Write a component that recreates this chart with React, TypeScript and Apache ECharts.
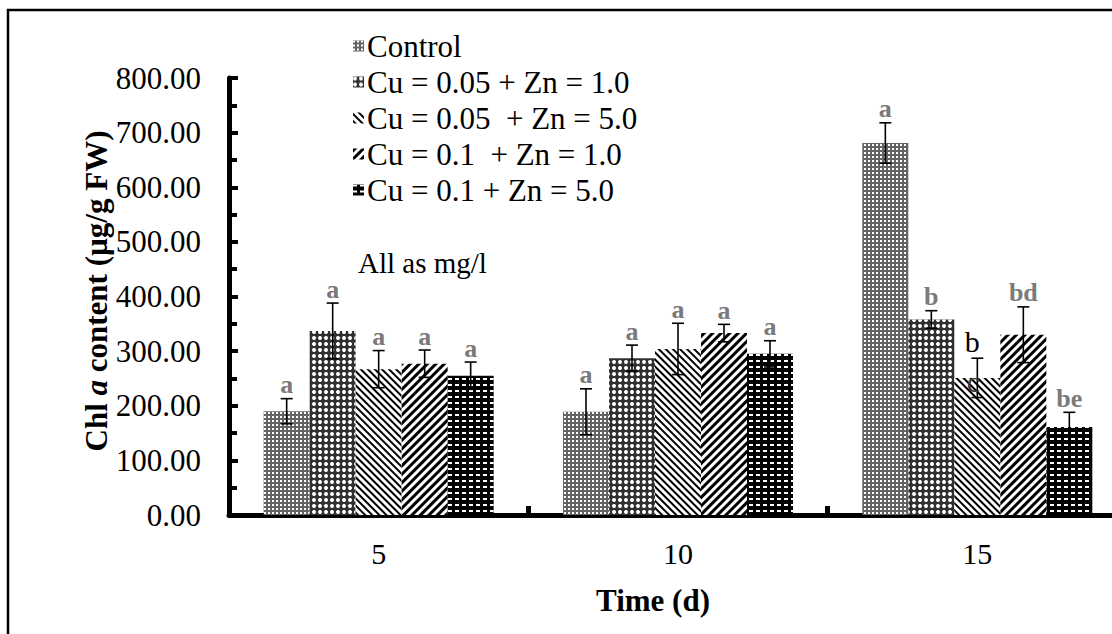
import React, { useEffect, useRef } from 'react';
import * as echarts from 'echarts';

const categories = ['5', '10', '15'];
const seriesNames = [
  'Control',
  'Cu = 0.05 + Zn = 1.0',
  'Cu = 0.05  + Zn = 5.0',
  'Cu = 0.1  + Zn = 1.0',
  'Cu = 0.1 + Zn = 5.0',
];
const controlValues = [190, 189, 681];
const cu005Zn1Values = [337, 287, 358];
const cu005Zn5Values = [267, 304, 251];
const cu01Zn1Values = [277, 333, 330];
const cu01Zn5Values = [255, 295, 161];

const controlErr = [23, 42, 37];
const cu005Zn1Err = [51, 24, 16];
const cu005Zn5Err = [34, 47, 36];
const cu01Zn1Err = [25, 16, 51];
const cu01Zn5Err = [25, 24, 27];

const controlLetters = ['a', 'a', 'a'];
const cu005Zn1Letters = ['a', 'a', 'b'];
const cu005Zn5Letters = ['a', 'a', 'b'];
const cu01Zn1Letters = ['a', 'a', 'bd'];
const cu01Zn5Letters = ['a', 'a', 'be'];

// letters drawn in black (series index, category index)
const darkLetters = [[2, 2]];
// extra letter drawn just under the bar top
const extraLetters = [{ series: 2, cat: 2, text: 'c' }];

const yMin = 0;
const yMax = 800;
const yInterval = 100;
const noteText = 'All as mg/l';

const FONT = 'Liberation Serif';
const BAR_W = 46;

export default function App() {
  const ref = useRef<HTMLDivElement>(null);

  useEffect(() => {
    if (!ref.current) return;
    const chart = echarts.init(ref.current, undefined, { renderer: 'svg' });

    const values = [controlValues, cu005Zn1Values, cu005Zn5Values, cu01Zn1Values, cu01Zn5Values];
    const errs = [controlErr, cu005Zn1Err, cu005Zn5Err, cu01Zn1Err, cu01Zn5Err];
    const letters = [controlLetters, cu005Zn1Letters, cu005Zn5Letters, cu01Zn1Letters, cu01Zn5Letters];

    const decals: any[] = [
      { color: '#ffffff', symbol: 'rect', symbolSize: 1, dashArrayX: [2, 2], dashArrayY: [2, 2] },
      { color: '#ffffff', symbol: 'circle', symbolSize: 1, dashArrayX: [4, 2], dashArrayY: [4, 2] },
      { color: '#000000', symbol: 'rect', symbolSize: 1, dashArrayX: [1, 0], dashArrayY: [2, 3], rotation: Math.PI / 4 },
      { color: '#000000', symbol: 'rect', symbolSize: 1, dashArrayX: [1, 0], dashArrayY: [3, 3], rotation: -Math.PI / 4 },
      { color: '#ffffff', symbol: 'rect', symbolSize: 1, dashArrayX: [4, 3], dashArrayY: [2, 4] },
    ];
    const baseColors = ['#646464', '#303030', '#ffffff', '#ffffff', '#000000'];

    const barSeries = seriesNames.map((name, i) => ({
      name,
      type: 'bar',
      data: values[i],
      barWidth: BAR_W,
      barGap: '0%',
      itemStyle: { color: baseColors[i], decal: decals[i] },
      emphasis: { disabled: true },
    }));

    const errData: any[] = [];
    values.forEach((vals, s) => {
      vals.forEach((v, c) => {
        errData.push({ value: [c, v, s, errs[s][c]], s, c, letter: letters[s][c] });
      });
    });

    const errSeries = {
      type: 'custom',
      name: 'err',
      z: 5,
      encode: { x: 0, y: 1 },
      data: errData.map((d) => d.value),
      renderItem: (params: any, api: any) => {
        const d = errData[params.dataIndex];
        const cat = api.value(0);
        const mean = api.value(1);
        const s = api.value(2);
        const err = api.value(3);
        const off = (s - 2) * BAR_W;
        const top = api.coord([cat, mean + err]);
        const bot = api.coord([cat, mean - err]);
        const mid = api.coord([cat, mean]);
        const x = top[0] + off;
        const ls = { stroke: '#000', lineWidth: 1.6 };
        const dark = darkLetters.some((p) => p[0] === d.s && p[1] === d.c);
        const children: any[] = [
          { type: 'line', shape: { x1: x, y1: top[1], x2: x, y2: bot[1] }, style: ls },
          { type: 'line', shape: { x1: x - 6, y1: top[1], x2: x + 6, y2: top[1] }, style: ls },
          { type: 'line', shape: { x1: x - 6, y1: bot[1], x2: x + 6, y2: bot[1] }, style: ls },
          {
            type: 'text',
            x: dark ? x - 5 : x,
            y: top[1] - (dark ? 17 : 14),
            style: {
              text: d.letter,
              fill: dark ? '#000' : '#7a7a7a',
              font: `${dark ? 'normal' : 'bold'} ${dark ? 30 : 26}px ${FONT}`,
              align: 'center',
              verticalAlign: 'middle',
            },
          },
        ];
        extraLetters.forEach((e) => {
          if (e.series === d.s && e.cat === d.c) {
            children.push({
              type: 'text',
              x: x - 4,
              y: mid[1] + 4,
              style: {
                text: e.text,
                fill: '#3a3a3a',
                font: `30px ${FONT}`,
                align: 'center',
                verticalAlign: 'middle',
              },
            });
          }
        });
        return { type: 'group', children };
      },
    };

    chart.setOption({
      animation: false,
      backgroundColor: '#ffffff',
      textStyle: { fontFamily: FONT },
      legend: {
        data: seriesNames,
        orient: 'vertical',
        left: 353,
        top: 28,
        padding: 0,
        itemGap: 0,
        itemWidth: 11,
        itemHeight: 11,
        icon: 'rect',
        selectedMode: false,
        textStyle: { fontFamily: FONT, fontSize: 31, color: '#000', lineHeight: 36, padding: [0, 0, 0, -2] },
      },
      grid: { left: 229, top: 78, width: 898, height: 437, containLabel: false },
      xAxis: {
        type: 'category',
        data: categories,
        axisLine: { show: true, lineStyle: { color: '#000', width: 5 } },
        axisTick: { show: true, inside: true, length: 9, lineStyle: { color: '#000', width: 5 } },
        axisLabel: { fontFamily: FONT, fontSize: 30, color: '#000', margin: 23 },
        splitLine: { show: false },
      },
      yAxis: {
        type: 'value',
        min: yMin,
        max: yMax,
        interval: yInterval,
        axisLine: { show: true, lineStyle: { color: '#000', width: 5 } },
        axisTick: { show: true, inside: true, length: 9, lineStyle: { color: '#000', width: 4 } },
        minorTick: { show: true, splitNumber: 2, length: 8, lineStyle: { color: '#000', width: 4 } },
        axisLabel: {
          fontFamily: FONT,
          fontSize: 31,
          color: '#000',
          margin: 28,
          formatter: (v: number) => v.toFixed(2),
        },
        splitLine: { show: false },
      },
      graphic: [
        {
          type: 'rect',
          silent: true,
          z: 100,
          shape: { x: 8, y: 10, width: 1200, height: 700 },
          style: { fill: 'none', stroke: '#000', lineWidth: 2.5 },
        },
        {
          type: 'text',
          x: 96,
          y: 291,
          rotation: Math.PI / 2,
          style: {
            text: '{b|Chl }{bi|a}{b| content (µg/g FW)}',
            align: 'center',
            verticalAlign: 'middle',
            rich: {
              b: { fontFamily: FONT, fontSize: 31, fontWeight: 'bold', fill: '#000' },
              bi: { fontFamily: FONT, fontSize: 31, fontWeight: 'bold', fontStyle: 'italic', fill: '#000' },
            },
          },
        },
        {
          type: 'text',
          x: 653,
          y: 600,
          style: {
            text: 'Time (d)',
            font: `bold 31px ${FONT}`,
            fill: '#000',
            align: 'center',
            verticalAlign: 'middle',
          },
        },
        {
          type: 'text',
          x: 358,
          y: 263,
          style: {
            text: noteText,
            font: `29px ${FONT}`,
            fill: '#000',
            align: 'left',
            verticalAlign: 'middle',
          },
        },
      ],
      series: [...barSeries, errSeries],
    });

    return () => chart.dispose();
  }, []);

  return (
    <div
      ref={ref}
      style={{ position: 'fixed', left: 0, top: 0, width: 1140, height: 634, background: '#fff' }}
    />
  );
}
